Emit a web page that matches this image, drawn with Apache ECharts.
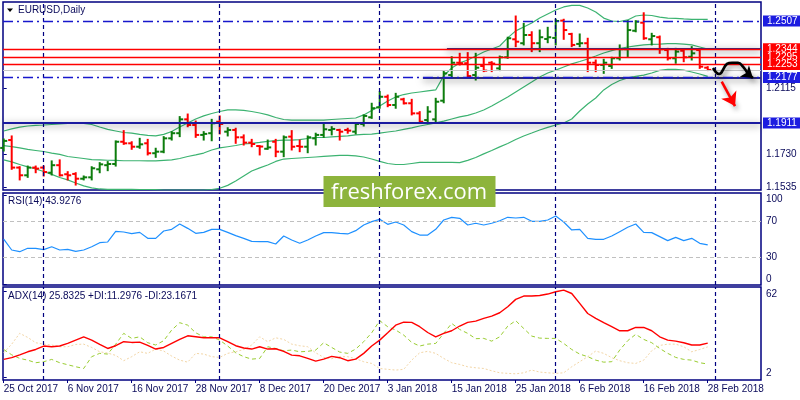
<!DOCTYPE html>
<html><head><meta charset="utf-8">
<script src="https://cdn.jsdelivr.net/npm/echarts@6/dist/echarts.min.js"></script>
<style>html,body{margin:0;padding:0;background:#fff}#c{width:800px;height:400px}</style>
</head><body><div id="c"></div>
<script>
// ---------- data ----------
const tickLabels = ['25 Oct 2017','6 Nov 2017','16 Nov 2017','28 Nov 2017','8 Dec 2017','20 Dec 2017','3 Jan 2018','15 Jan 2018','25 Jan 2018','6 Feb 2018','16 Feb 2018','28 Feb 2018'];
const tickIndex = [0,8,16,24,32,40,48,56,64,72,80,88];
const monthStarts = [5,27,47,69,89];

const barOpen = [1.1765,1.1811,1.1650,1.1605,1.1650,1.1650,1.1620,1.1664,1.1611,1.1613,
1.1585,1.1593,1.1640,1.1664,1.1671,1.1801,1.1792,1.1772,1.1792,1.1734,
1.1743,1.1821,1.1851,1.1932,1.1899,1.1841,1.1851,1.1918,1.1860,1.1870,
1.1827,1.1796,1.1776,1.1760,1.1801,1.1743,1.1831,1.1776,1.1772,1.1821,
1.1841,1.1870,1.1870,1.1870,1.1860,1.1905,1.1944,1.2002,1.2064,1.2016,
1.2049,1.2026,1.1967,1.1928,1.1932,1.2041,1.2191,1.2263,1.2260,1.2191,
1.2244,1.2263,1.2230,1.2295,1.2400,1.2377,1.2425,1.2377,1.2402,1.2408,
1.2509,1.2431,1.2373,1.2377,1.2263,1.2250,1.2244,1.2289,1.2342,1.2450,
1.2497,1.2400,1.2412,1.2337,1.2289,1.2333,1.2298,1.2337,1.2234];
const barHigh = [1.1817,1.1835,1.1655,1.1659,1.1659,1.1659,1.1689,1.1695,1.1626,1.1620,
1.1601,1.1655,1.1679,1.1685,1.1806,1.1866,1.1801,1.1821,1.1815,1.1763,
1.1831,1.1860,1.1948,1.1963,1.1922,1.1860,1.1932,1.1952,1.1883,1.1880,
1.1841,1.1815,1.1778,1.1811,1.1815,1.1835,1.1866,1.1811,1.1835,1.1851,
1.1909,1.1889,1.1874,1.1880,1.1909,1.1958,1.2026,1.2094,1.2074,1.2084,
1.2055,1.2049,1.1977,1.2006,1.2055,1.2217,1.2298,1.2318,1.2322,1.2318,
1.2295,1.2269,1.2302,1.2412,1.2536,1.2493,1.2444,1.2454,1.2470,1.2517,
1.2517,1.2435,1.2431,1.2406,1.2279,1.2283,1.2295,1.2367,1.2509,1.2509,
1.2555,1.2435,1.2419,1.2347,1.2347,1.2342,1.2357,1.2342,1.2240];
const barLow = [1.1747,1.1640,1.1578,1.1593,1.1620,1.1601,1.1607,1.1601,1.1578,1.1548,
1.1578,1.1578,1.1620,1.1632,1.1659,1.1786,1.1757,1.1763,1.1724,1.1710,
1.1737,1.1811,1.1831,1.1889,1.1827,1.1811,1.1807,1.1847,1.1835,1.1792,
1.1782,1.1772,1.1724,1.1757,1.1714,1.1714,1.1753,1.1743,1.1737,1.1782,
1.1827,1.1841,1.1811,1.1851,1.1847,1.1893,1.1938,1.1997,1.2006,1.1997,
1.2022,1.1958,1.1912,1.1918,1.1918,1.2029,1.2181,1.2250,1.2181,1.2162,
1.2211,1.2211,1.2217,1.2289,1.2357,1.2367,1.2328,1.2328,1.2380,1.2367,
1.2400,1.2357,1.2357,1.2211,1.2211,1.2201,1.2230,1.2279,1.2295,1.2444,
1.2400,1.2367,1.2318,1.2279,1.2260,1.2269,1.2279,1.2230,1.2217];
const barClose = [1.1806,1.1650,1.1605,1.1650,1.1644,1.1624,1.1664,1.1605,1.1605,1.1585,
1.1593,1.1646,1.1669,1.1671,1.1801,1.1792,1.1772,1.1786,1.1734,1.1743,
1.1821,1.1851,1.1932,1.1899,1.1841,1.1847,1.1909,1.1905,1.1870,1.1827,
1.1796,1.1788,1.1773,1.1768,1.1743,1.1827,1.1772,1.1772,1.1827,1.1841,
1.1874,1.1876,1.1860,1.1866,1.1905,1.1952,1.1997,1.2064,1.2016,1.2064,
1.2026,1.1967,1.1918,1.1977,1.2035,1.2201,1.2263,1.2260,1.2185,1.2234,
1.2217,1.2258,1.2295,1.2406,1.2386,1.2425,1.2377,1.2412,1.2412,1.2507,
1.2454,1.2367,1.2377,1.2263,1.2250,1.2263,1.2289,1.2342,1.2454,1.2503,
1.2406,1.2419,1.2342,1.2289,1.2328,1.2295,1.2318,1.2240,1.2221];

const bbUpper = [1.1864,1.1876,1.1887,1.1893,1.1897,1.1899,1.1902,1.1905,1.1908,1.1909,
1.1909,1.1902,1.1887,1.1873,1.1864,1.1855,1.1851,1.1844,1.1838,1.1835,
1.1844,1.1861,1.1887,1.1911,1.1934,1.1952,1.1966,1.1978,1.1987,1.1987,
1.1984,1.1978,1.1969,1.1958,1.1943,1.1931,1.1928,1.1928,1.1928,1.1928,
1.1928,1.1931,1.1934,1.1937,1.1940,1.1958,1.1984,1.2010,1.2039,1.2063,
1.2077,1.2086,1.2092,1.2098,1.2104,1.2186,1.2232,1.2262,1.2279,1.2302,
1.2326,1.2343,1.2361,1.2408,1.2449,1.2472,1.2495,1.2524,1.2548,1.2571,
1.2589,1.2598,1.2598,1.2583,1.2560,1.2524,1.2507,1.2504,1.2513,1.2536,
1.2542,1.2539,1.2530,1.2524,1.2522,1.2519,1.2517,1.2516,1.2516];
const bbMid = [1.1778,1.1773,1.1765,1.1756,1.1750,1.1744,1.1735,1.1727,1.1715,1.1709,
1.1703,1.1697,1.1695,1.1693,1.1692,1.1690,1.1690,1.1690,1.1689,1.1689,
1.1692,1.1695,1.1703,1.1715,1.1724,1.1735,1.1753,1.1765,1.1772,1.1779,
1.1788,1.1792,1.1797,1.1803,1.1808,1.1811,1.1811,1.1814,1.1820,1.1826,
1.1826,1.1829,1.1832,1.1835,1.1841,1.1844,1.1846,1.1851,1.1858,1.1864,
1.1873,1.1882,1.1893,1.1902,1.1911,1.1922,1.1934,1.1946,1.1955,1.1969,
1.1987,1.2010,1.2036,1.2063,1.2092,1.2121,1.2150,1.2180,1.2203,1.2220,
1.2238,1.2256,1.2270,1.2285,1.2302,1.2320,1.2334,1.2346,1.2355,1.2361,
1.2367,1.2370,1.2372,1.2375,1.2375,1.2372,1.2367,1.2355,1.2343];
const bbLower = [1.1695,1.1683,1.1668,1.1654,1.1642,1.1627,1.1610,1.1592,1.1578,1.1560,
1.1543,1.1531,1.1525,1.1523,1.1523,1.1523,1.1523,1.1522,1.1522,1.1521,
1.1519,1.1519,1.1519,1.1519,1.1519,1.1519,1.1522,1.1529,1.1546,1.1572,
1.1601,1.1630,1.1648,1.1665,1.1686,1.1700,1.1703,1.1706,1.1709,1.1712,
1.1715,1.1718,1.1721,1.1721,1.1718,1.1712,1.1700,1.1686,1.1674,1.1668,
1.1668,1.1674,1.1680,1.1680,1.1680,1.1680,1.1680,1.1679,1.1692,1.1709,
1.1730,1.1750,1.1771,1.1791,1.1814,1.1835,1.1852,1.1870,1.1885,1.1899,
1.1911,1.1934,1.1981,1.2022,1.2057,1.2104,1.2136,1.2159,1.2174,1.2183,
1.2191,1.2203,1.2218,1.2224,1.2224,1.2220,1.2209,1.2197,1.2183];

const rsi = [50.5,38.2,36.3,40.1,40.1,38.6,41.9,38.2,38.9,36.7,
38.2,41.9,46.4,47.2,59.2,58.4,56.5,58.0,51.3,51.3,
59.5,61.4,67.4,62.5,56.9,58.0,61.4,61.4,58.0,54.3,
51.3,47.9,47.6,47.6,44.9,53.9,49.4,45.7,49.4,53.9,
57.7,57.7,56.9,56.2,59.9,66.3,70.0,72.6,67.0,69.6,
66.3,58.8,55.0,55.0,61.4,71.9,74.9,73.8,66.3,68.2,
66.3,68.2,71.1,74.9,74.1,74.9,70.4,70.4,71.9,76.4,
69.6,60.7,61.4,51.3,50.2,50.2,53.9,58.8,63.7,67.4,
58.0,57.7,53.2,48.7,52.4,48.7,51.3,45.7,43.9];
const adx = [14.5,15.7,17.7,19.8,21.4,23.8,23.3,23.8,25.6,27.9,
30.2,27.9,24.9,22.1,24.0,26.8,26.3,26.5,24.2,21.7,
22.8,25.6,28.4,30.9,30.2,29.5,29.5,29.5,26.8,24.0,
22.4,21.7,23.3,21.7,21.9,20.1,17.5,17.0,15.2,13.3,
14.7,16.6,15.7,13.6,14.7,18.7,23.8,27.9,33.0,38.3,
40.4,40.2,37.2,33.2,30.2,32.6,34.4,37.7,40.2,41.1,
43.0,44.6,46.9,51.1,56.2,58.5,58.5,58.9,59.9,61.5,
62.6,60.3,53.4,46.4,43.0,40.0,37.2,34.4,34.4,36.7,
36.7,34.4,30.2,27.9,27.2,26.1,24.5,24.5,25.8];
const plusDI = [21.4,17.7,15.2,14.0,12.2,12.9,14.5,12.2,10.8,9.4,
8.2,16.4,18.7,18.2,25.1,32.6,29.1,30.2,26.1,24.5,
27.5,34.9,40.0,38.3,33.0,30.2,30.2,27.9,23.8,19.1,
16.4,14.7,15.2,23.3,22.1,20.5,21.0,19.8,20.1,21.0,
26.1,22.8,19.6,18.7,21.7,26.8,33.0,41.4,37.2,34.9,
31.4,26.3,23.8,25.1,25.6,32.6,39.5,35.3,32.6,28.9,
29.1,27.2,30.2,37.6,41.4,36.0,30.7,29.3,29.1,29.1,
25.6,21.4,18.2,16.4,14.0,12.6,12.9,21.0,27.5,31.9,
28.4,26.1,22.1,18.7,15.9,14.5,14.0,12.2,11.3];
const minusDI = [19.1,25.1,32.6,29.8,26.1,25.1,24.5,23.3,23.3,24.9,
25.1,22.8,19.8,18.9,17.3,13.6,16.4,19.8,18.7,21.7,
20.3,16.8,14.0,12.6,18.7,18.2,16.4,15.9,18.7,19.8,
21.4,24.5,30.2,26.8,29.5,28.4,25.1,24.0,23.3,19.1,
15.9,15.0,16.4,16.4,15.0,12.9,11.7,8.2,7.6,7.1,
7.6,14.0,19.1,20.1,18.7,15.2,12.2,11.0,9.4,8.7,
8.2,6.6,5.2,4.8,4.5,5.2,7.1,5.7,5.2,4.8,
5.2,9.4,12.9,16.4,20.3,18.7,15.7,13.6,12.2,11.7,
14.0,20.5,24.2,25.1,25.1,23.3,19.8,21.4,23.2];

const priceTicks = [1.2115, 1.1730, 1.1535];
const rsiTicks = [100, 70, 30, 0];
const rsiLevels = [70, 30];
const adxTicks = [62, 2];
const blueDashLevels = [1.2507, 1.2177];
const redLevels = [1.2344, 1.2295, 1.2253];
const supportLevels = [1.1911];
const bidPrice = [1.2221];
const zoneLevels = [1.2344, 1.2177];
const zoneStartIndex = [55.4, 52.4];
const forecastPath = [[88.66,1.2232],[89.41,1.2197],[90.41,1.2256],[91.04,1.2263],[91.79,1.2263],[92.41,1.2240],[93.04,1.2197]];
const forecastHead = [[93.04,1.2197],[93.65,1.2174]];
const forecastDrop = [[89.75,1.2152],[91.41,1.2010]];

// ---------- chart ----------
const X_MIN = -0.0875, X_MAX = 94.66;
const NAVY = '#000080', TXT = '#0a0a5a', FONT = 'Liberation Sans';
const UP = '#0d7d0d', DOWN = '#ff0000', BAND = '#3cb371';
const BLUE_LINE = '#1717cc', BLUE_BOX = '#1c1ce0';
const SHADOW = {shadowBlur: 5, shadowColor: 'rgba(0,0,0,0.45)', shadowOffsetX: 2, shadowOffsetY: 3};

function renderBar(params, api) {
  const i = api.value(0), o = api.value(1), h = api.value(2), l = api.value(3), c = api.value(4);
  const pH = api.coord([i, h]), pL = api.coord([i, l]), pO = api.coord([i, o]), pC = api.coord([i, c]);
  const st = {stroke: c >= o ? UP : DOWN, lineWidth: 2};
  return {type: 'group', children: [
    {type: 'line', shape: {x1: pH[0], y1: pH[1] - 0.5, x2: pL[0], y2: pL[1] + 0.5}, style: st},
    {type: 'line', shape: {x1: pO[0] - 3.5, y1: pO[1], x2: pO[0], y2: pO[1]}, style: st},
    {type: 'line', shape: {x1: pC[0], y1: pC[1], x2: pC[0] + 3.5, y2: pC[1]}, style: st}
  ]};
}

function boxLabel(v, bg) {
  return {show: true, position: 'end', distance: 2, formatter: v.toFixed(4), color: '#fff',
    backgroundColor: bg, padding: [1, 5, 0, 4], fontSize: 10, fontFamily: FONT, lineHeight: 10};
}
function hLine(v, xFrom, lineStyle, label) {
  return [{coord: [xFrom, v], lineStyle: lineStyle, label: label || {show: false}}, {coord: [X_MAX, v]}];
}
const vMonth = monthStarts.map(m => ({xAxis: m, lineStyle: {color: NAVY, type: [4, 3], width: 1.2}}));

const priceMarks = [].concat(
  vMonth,
  bidPrice.map(v => hLine(v, X_MIN, {color: '#c8c8c8', width: 1, type: 'solid'})),
  zoneLevels.map((v, k) => hLine(v, zoneStartIndex[k], {color: '#2b2b80', width: 2, type: 'solid', shadowBlur: 7, shadowColor: 'rgba(0,0,0,0.55)', shadowOffsetY: 2})),
  supportLevels.map(v => hLine(v, X_MIN, {color: '#1a1aa0', width: 1.8, type: 'solid', shadowBlur: 7, shadowColor: 'rgba(0,0,0,0.5)', shadowOffsetY: 2}, boxLabel(v, BLUE_BOX))),
  blueDashLevels.map(v => hLine(v, X_MIN, {color: BLUE_LINE, width: 1.3, type: [10, 4, 2, 4]}, boxLabel(v, BLUE_BOX))),
  redLevels.map(v => hLine(v, X_MIN, {color: '#ff0000', width: 1.3, type: 'solid'}, boxLabel(v, '#ff0000')))
);

const richLab = (extra) => Object.assign({color: TXT, fontSize: 10, fontFamily: FONT}, extra);
const xy = arr => arr.map((v, i) => [i, v]);

const grids = [
  {left: 3, right: 39, top: 2, height: 188},
  {left: 3, right: 39, top: 193, height: 92},
  {left: 3, right: 39, top: 287, height: 93}
].map(g => Object.assign(g, {show: true, borderColor: NAVY, borderWidth: 1.5, backgroundColor: 'transparent'}));

const xAxes = [0, 1, 2].map(k => ({
  type: 'value', gridIndex: k, min: X_MIN, max: X_MAX,
  axisLine: {show: false}, splitLine: {show: false},
  axisTick: {show: k === 2, customValues: tickIndex, length: 3, lineStyle: {color: NAVY}},
  axisLabel: {show: k === 2, customValues: tickIndex, formatter: v => tickLabels[tickIndex.indexOf(v)] || '',
    align: 'left', margin: 4, color: TXT, fontSize: 10, fontFamily: FONT}
}));

const yAxes = [
  {type: 'value', gridIndex: 0, position: 'right', min: 1.1519, max: 1.2618,
    axisLine: {show: false}, splitLine: {show: false},
    axisTick: {show: true, customValues: priceTicks, length: 3, lineStyle: {color: NAVY}},
    axisLabel: {customValues: priceTicks, formatter: v => v.toFixed(4), margin: 5, color: TXT, fontSize: 10, fontFamily: FONT}},
  {type: 'value', gridIndex: 1, position: 'right', min: -1.1, max: 102.2,
    axisLine: {show: false}, splitLine: {show: false},
    axisTick: {show: true, customValues: rsiTicks, length: 3, lineStyle: {color: NAVY}},
    axisLabel: {customValues: rsiTicks, margin: 5,
      formatter: v => v === 100 ? '{t|100}' : (v === 0 ? '{b|0}' : '{n|' + v + '}'),
      rich: {t: richLab({padding: [8, 0, 0, 0]}), b: richLab({padding: [0, 0, 10, 0]}), n: richLab({})}}},
  {type: 'value', gridIndex: 2, position: 'right', min: 0.2, max: 64.8,
    axisLine: {show: false}, splitLine: {show: false},
    axisTick: {show: true, customValues: adxTicks, length: 3, lineStyle: {color: NAVY}},
    axisLabel: {customValues: adxTicks, margin: 5,
      formatter: v => v === 62 ? '{t|62}' : '{b|2}',
      rich: {t: richLab({padding: [6, 0, 0, 0]}), b: richLab({padding: [0, 0, 9, 0]})}}}
];

const lineBase = {type: 'line', showSymbol: false, symbol: 'none', silent: true};

const series = [
  Object.assign({}, lineBase, {name: 'upper', xAxisIndex: 0, yAxisIndex: 0, data: xy(bbUpper), lineStyle: {color: BAND, width: 1.2}, z: 2}),
  Object.assign({}, lineBase, {name: 'mid', xAxisIndex: 0, yAxisIndex: 0, data: xy(bbMid), lineStyle: {color: BAND, width: 1.2}, z: 2,
    markLine: {silent: true, symbol: ['none', 'none'], label: {show: false}, data: priceMarks}}),
  Object.assign({}, lineBase, {name: 'lower', xAxisIndex: 0, yAxisIndex: 0, data: xy(bbLower), lineStyle: {color: BAND, width: 1.2}, z: 2}),
  {type: 'custom', name: 'bars', xAxisIndex: 0, yAxisIndex: 0, renderItem: renderBar, silent: true, z: 4,
    encode: {x: 0, y: [1, 2, 3, 4]},
    data: barOpen.map((o, i) => [i, o, barHigh[i], barLow[i], barClose[i]])},
  Object.assign({}, lineBase, {name: 'forecast', xAxisIndex: 0, yAxisIndex: 0, data: forecastPath, smooth: 0.45, z: 6,
    lineStyle: Object.assign({color: '#000', width: 2.6}, SHADOW),
    markLine: {silent: true, symbol: ['none', 'arrow'], symbolSize: 12, label: {show: false},
      data: [
        [{coord: forecastHead[0], symbol: 'none', lineStyle: Object.assign({color: '#000', width: 2.6, type: 'solid'}, SHADOW)},
         {coord: forecastHead[1], symbol: 'arrow', symbolSize: 11}],
        [{coord: forecastDrop[0], symbol: 'none', lineStyle: Object.assign({color: '#ff0000', width: 2.6, type: 'solid'}, SHADOW)},
         {coord: forecastDrop[1], symbol: 'arrow', symbolSize: 13}]
      ]}}),
  Object.assign({}, lineBase, {name: 'RSI', xAxisIndex: 1, yAxisIndex: 1, data: xy(rsi), lineStyle: {color: '#1e90ff', width: 1.2},
    markLine: {silent: true, symbol: ['none', 'none'], label: {show: false},
      data: rsiLevels.map(v => ({yAxis: v, lineStyle: {color: '#c0c0c0', type: [4, 3], width: 1}})).concat(vMonth)}}),
  Object.assign({}, lineBase, {name: '-DI', xAxisIndex: 2, yAxisIndex: 2, data: xy(minusDI), lineStyle: {color: '#f3d6a6', width: 1, type: [2, 2]}}),
  Object.assign({}, lineBase, {name: '+DI', xAxisIndex: 2, yAxisIndex: 2, data: xy(plusDI), lineStyle: {color: '#9acd32', width: 1, type: [4, 3]}}),
  Object.assign({}, lineBase, {name: 'ADX', xAxisIndex: 2, yAxisIndex: 2, data: xy(adx), lineStyle: {color: '#ff0000', width: 1.4},
    markLine: {silent: true, symbol: ['none', 'none'], label: {show: false}, data: vMonth}})
];

const graphic = [
  {type: 'polygon', shape: {points: [[7, 8.5], [13, 8.5], [10, 12]]}, style: {fill: '#000'}, z: 20},
  {type: 'text', x: 18, y: 10.5, style: {text: 'EURUSD,Daily', fill: TXT, font: '10px "Liberation Sans"', verticalAlign: 'middle', textVerticalAlign: 'middle'}, z: 20},
  {type: 'text', x: 8, y: 201.7, style: {text: 'RSI(14) 43.9276', fill: TXT, font: '10px "Liberation Sans"', verticalAlign: 'middle', textVerticalAlign: 'middle'}, z: 20},
  {type: 'text', x: 8, y: 296.7, style: {text: 'ADX(14) 25.8325 +DI:11.2976 -DI:23.1671', fill: TXT, font: '10px "Liberation Sans"', verticalAlign: 'middle', textVerticalAlign: 'middle'}, z: 20},
  {type: 'rect', shape: {x: 323.5, y: 176, width: 172, height: 31}, style: {fill: '#8db43c'}, z: 30},
  {type: 'text', x: 331, y: 192.5, style: {text: 'freshforex.com', fill: '#fff', font: '22px "Open Sans"', verticalAlign: 'middle', textVerticalAlign: 'middle'}, z: 31}
];

const chart = echarts.init(document.getElementById('c'), null, {renderer: 'canvas'});
chart.setOption({animation: false, backgroundColor: '#fff', grid: grids, xAxis: xAxes, yAxis: yAxes, series: series, graphic: graphic});
</script></body></html>
